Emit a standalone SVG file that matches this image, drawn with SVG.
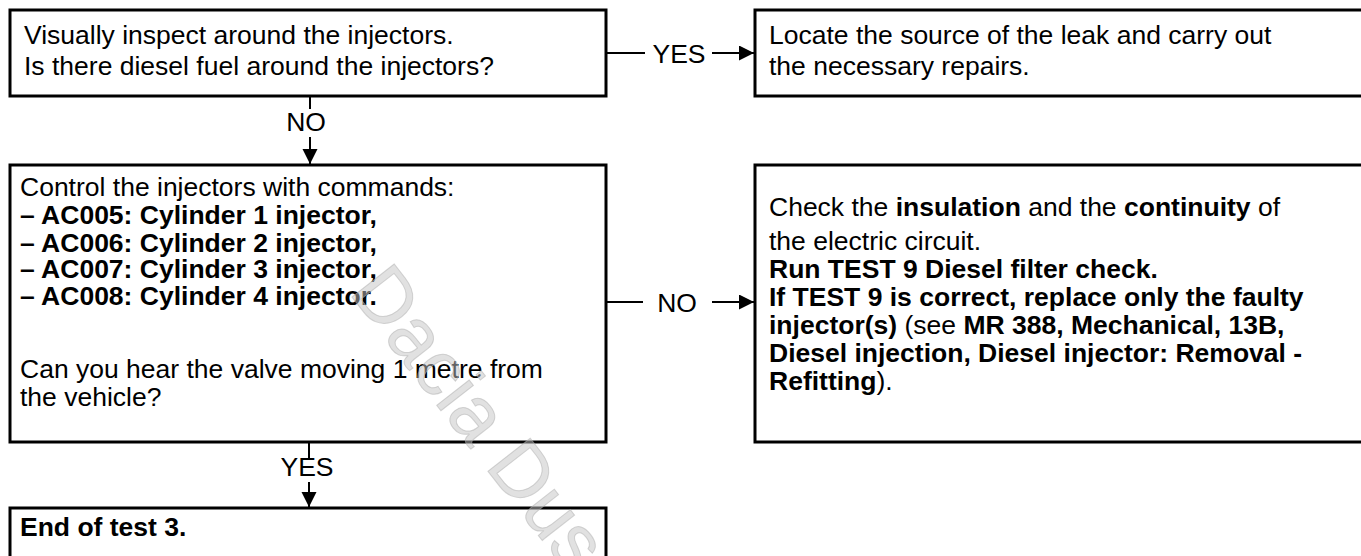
<svg xmlns="http://www.w3.org/2000/svg" width="1361" height="556" viewBox="0 0 1361 556">
  <defs>
    <marker id="arrow" markerUnits="userSpaceOnUse" markerWidth="16" markerHeight="16" refX="15" refY="7.5" orient="auto">
      <path d="M0,0 L15,7.5 L0,15 Z" fill="#000"/>
    </marker>
    <style>
      .box { fill: #fff; stroke: #000; stroke-width: 3; }
      .t { font-family: "Liberation Sans", Arial, sans-serif; font-size: 26.5px; fill: #000; }
      .b { font-weight: bold; }
      .lbl { font-family: "Liberation Sans", Arial, sans-serif; font-size: 26.5px; fill: #000; text-anchor: middle; }
      .ln { stroke: #000; stroke-width: 2; fill: none; }
      .wm { font-family: "Liberation Sans", Arial, sans-serif; font-size: 78px; fill: #c4c4c4; fill-opacity: 0.5; stroke: #b0b0b0; stroke-opacity: 0.5; stroke-width: 1; }
    </style>
  </defs>

  <rect width="1361" height="556" fill="#fff"/>

  <g id="node-inspect">
    <rect class="box" x="10" y="10" width="596" height="86"/>
    <text class="t" x="24" y="44">Visually inspect around the injectors.</text>
    <text class="t" x="24" y="75">Is there diesel fuel around the injectors?</text>
  </g>

  <g id="node-leak">
    <rect class="box" x="755" y="10" width="650" height="86"/>
    <text class="t" x="769" y="44">Locate the source of the leak and carry out</text>
    <text class="t" x="769" y="75">the necessary repairs.</text>
  </g>

  <g id="node-control">
    <rect class="box" x="10" y="165" width="596" height="277"/>
    <text class="t" x="20" y="196">Control the injectors with commands:</text>
    <text class="t b" x="20" y="224">– AC005: Cylinder 1 injector,</text>
    <text class="t b" x="20" y="252">– AC006: Cylinder 2 injector,</text>
    <text class="t b" x="20" y="278">– AC007: Cylinder 3 injector,</text>
    <text class="t b" x="20" y="305">– AC008: Cylinder 4 injector.</text>
    <text class="t" x="20" y="378">Can you hear the valve moving 1 metre from</text>
    <text class="t" x="20" y="406">the vehicle?</text>
  </g>

  <g id="node-check">
    <rect class="box" x="755" y="165" width="650" height="277"/>
    <text class="t" x="769" y="216">Check the <tspan class="b">insulation</tspan> and the <tspan class="b">continuity</tspan> of</text>
    <text class="t" x="769" y="250">the electric circuit.</text>
    <text class="t b" x="769" y="278">Run TEST 9 Diesel filter check.</text>
    <text class="t b" x="769" y="306">If TEST 9 is correct, replace only the faulty</text>
    <text class="t" x="769" y="334"><tspan class="b">injector(s)</tspan> (see <tspan class="b">MR 388, Mechanical, 13B,</tspan></text>
    <text class="t b" x="769" y="362">Diesel injection, Diesel injector: Removal -</text>
    <text class="t" x="769" y="390"><tspan class="b">Refitting</tspan>).</text>
  </g>

  <g id="node-end">
    <rect class="box" x="10" y="508" width="596" height="80"/>
    <text class="t b" x="20" y="536">End of test 3.</text>
  </g>

  <g id="connectors">
    <line class="ln" x1="606" y1="53" x2="645" y2="53"/>
    <text class="lbl" x="679" y="63">YES</text>
    <line class="ln" x1="712" y1="53" x2="754" y2="53" marker-end="url(#arrow)"/>

    <line class="ln" x1="310" y1="97" x2="310" y2="109"/>
    <text class="lbl" x="306" y="131">NO</text>
    <line class="ln" x1="310" y1="137" x2="310" y2="164" marker-end="url(#arrow)"/>

    <line class="ln" x1="606" y1="302" x2="643" y2="302"/>
    <text class="lbl" x="677" y="311.5">NO</text>
    <line class="ln" x1="712" y1="302" x2="754" y2="302" marker-end="url(#arrow)"/>

    <line class="ln" x1="309" y1="443" x2="309" y2="458"/>
    <text class="lbl" x="307" y="476">YES</text>
    <line class="ln" x1="309" y1="482" x2="309" y2="507" marker-end="url(#arrow)"/>
  </g>

  <g id="watermark">
    <text class="wm" x="348" y="292" transform="rotate(52 348 292)">Dacia Dus</text>
  </g>
</svg>
